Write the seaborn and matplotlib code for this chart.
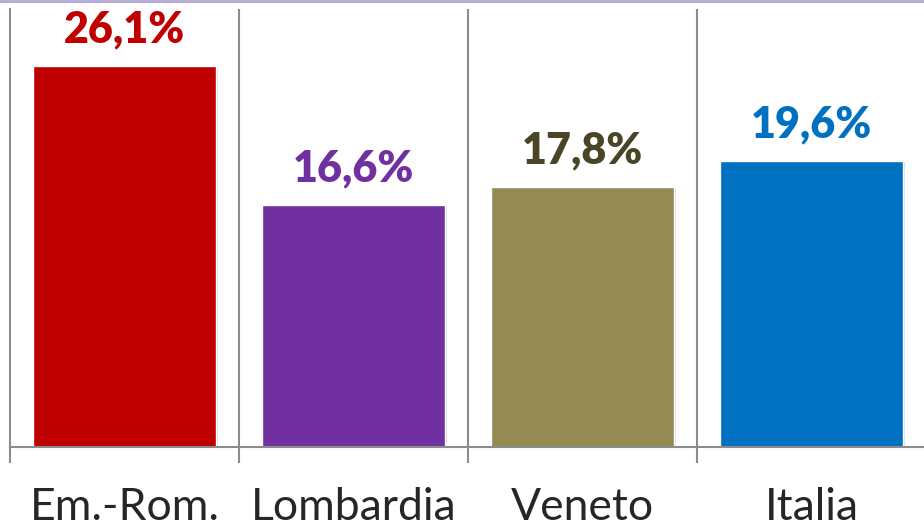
import matplotlib
matplotlib.use("Agg")
import matplotlib.pyplot as plt
import matplotlib.patheffects as pe
from matplotlib.lines import Line2D
import seaborn as sns
import pandas as pd

regioni = ["Em.-Rom.", "Lombardia", "Veneto", "Italia"]
valori = [26.1, 16.6, 17.8, 19.6]
etichette = ["26,1%", "16,6%", "17,8%", "19,6%"]
colori_barre = ["#C00000", "#7030A0", "#948A54", "#0070C0"]
colori_testo = ["#C00000", "#7030A0", "#4A4527", "#0070C0"]

df = pd.DataFrame({"regione": regioni, "valore": valori})

sns.set_style("white")
plt.rcParams["font.family"] = ["Lato", "DejaVu Sans"]

W, H = 924, 531
fig = plt.figure(figsize=(W / 100, H / 100), dpi=100)
# asse da x=10 a x=926 px, da y=9 a y=447 px
ax = fig.add_axes([10 / W, (H - 447) / H, 916 / W, 438 / H])

sns.barplot(data=df, x="regione", y="valore", hue="regione", palette=colori_barre,
            width=0.8, legend=False, ax=ax, saturation=1)

for bar in ax.patches:
    bar.set_path_effects([pe.SimplePatchShadow(offset=(1.5, -1), shadow_rgbFace="#999999", alpha=0.35),
                          pe.Normal()])

for cont, lab, col in zip(ax.containers, etichette, colori_testo):
    ax.bar_label(cont, labels=[lab], padding=12, color=col, fontsize=31, fontweight="heavy")

ax.set_xlim(-0.5, 3.5)
ax.set_ylim(0, 30)
ax.set_xlabel("")
ax.set_ylabel("")
ax.set_yticks([])

grigio = "#8C8C8C"
for s in ["top", "right"]:
    ax.spines[s].set_visible(False)
for s in ["left", "bottom"]:
    ax.spines[s].set_color(grigio)
    ax.spines[s].set_linewidth(1.5)

for xb in [0.5, 1.5, 2.5]:
    ax.axvline(xb, color=grigio, lw=1.5)

ax.set_xticks(range(len(regioni)))
ax.set_xticklabels(regioni, fontsize=32)
ax.tick_params(axis="x", which="major", length=0, pad=29)
ax.set_xticks([-0.5, 0.5, 1.5, 2.5, 3.5], minor=True)
ax.tick_params(axis="x", which="minor", bottom=True, length=11.5, width=1.5, color=grigio, direction="out")

fig.add_artist(Line2D([0, 1], [1 - 1 / H, 1 - 1 / H], color="#B4A7D6", lw=2, transform=fig.transFigure))

fig.savefig("out.png", dpi=100)
